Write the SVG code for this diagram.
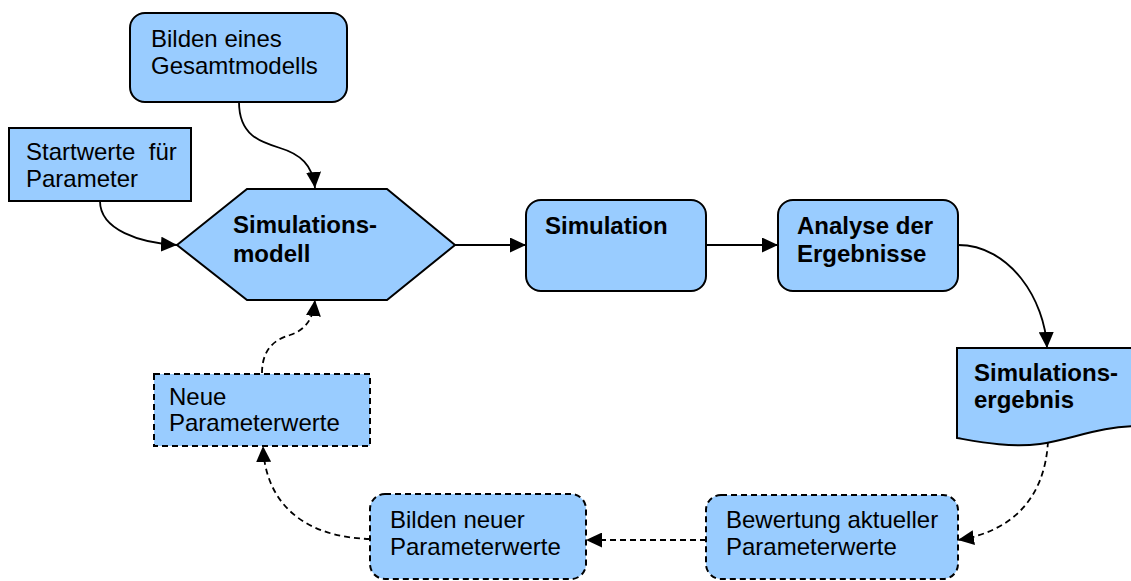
<svg xmlns="http://www.w3.org/2000/svg" width="1131" height="581" viewBox="0 0 1131 581">
<defs>
<style>
.box{fill:#99CCFF;stroke:#000;stroke-width:2}
.dash{stroke-dasharray:6 4}
.t{font-family:"Liberation Sans",Arial,sans-serif;font-size:24px;fill:#000}
.b{font-weight:bold}
.c{fill:none;stroke:#000;stroke-width:1.8}
</style>
<marker id="ah" markerUnits="userSpaceOnUse" markerWidth="17" markerHeight="15" refX="16" refY="7.5" orient="auto">
<path d="M0,0 L16,7.5 L0,15 Z" fill="#000"/>
</marker>
</defs>
<rect width="1131" height="581" fill="#fff"/>
<g id="connectors">
<path class="c" d="M239,102 C239,135 260,142 280,148 C300,154 313,165 315,188" marker-end="url(#ah)"/>
<path class="c" d="M100,201 C100,230 140,243 177,245" marker-end="url(#ah)"/>
<path class="c" d="M455,245 L526,245" marker-end="url(#ah)"/>
<path class="c" d="M706,245 L778,245" marker-end="url(#ah)"/>
<path class="c" d="M958,245 C1010,245 1045,300 1047,348" marker-end="url(#ah)"/>
<path class="c dash" d="M1048,441 C1045,500 1010,532 958,540" marker-end="url(#ah)"/>
<path class="c dash" d="M706,540 L586,540" marker-end="url(#ah)"/>
<path class="c dash" d="M370,539 C300,537 265,500 263,446" marker-end="url(#ah)"/>
<path class="c dash" d="M262,373 C262,345 280,338 290,335 C305,330 313,320 315,300" marker-end="url(#ah)"/>
</g>
<g id="gesamtmodell">
<rect class="box" x="130" y="13" width="217" height="89" rx="15"/>
<text class="t" x="151" y="47">Bilden eines</text>
<text class="t" x="151" y="74">Gesamtmodells</text>
</g>
<g id="startwerte">
<rect class="box" x="9" y="128" width="182" height="73"/>
<text class="t" x="26" y="160" xml:space="preserve">Startwerte  für</text>
<text class="t" x="26" y="187">Parameter</text>
</g>
<g id="simulationsmodell">
<polygon class="box" points="177,245 247,189 387,189 455,245 387,300 247,300"/>
<text class="t b" x="233" y="233">Simulations-</text>
<text class="t b" x="233" y="262">modell</text>
</g>
<g id="simulation">
<rect class="box" x="526" y="200" width="180" height="91" rx="15"/>
<text class="t b" x="545" y="234">Simulation</text>
</g>
<g id="analyse">
<rect class="box" x="778" y="200" width="180" height="91" rx="15"/>
<text class="t b" x="797" y="234">Analyse der</text>
<text class="t b" x="797" y="262">Ergebnisse</text>
</g>
<g id="simulationsergebnis">
<path class="box" d="M957,348 H1140 V426 C1100,426 1070,440 1040,444 C1010,448 980,442 957,438 Z"/>
<text class="t b" x="974" y="381">Simulations-</text>
<text class="t b" x="974" y="408">ergebnis</text>
</g>
<g id="bewertung">
<rect class="box dash" x="706" y="495" width="252" height="84" rx="15"/>
<text class="t" x="726" y="528">Bewertung aktueller</text>
<text class="t" x="726" y="555">Parameterwerte</text>
</g>
<g id="bilden-neuer">
<rect class="box dash" x="370" y="494" width="216" height="85" rx="15"/>
<text class="t" x="390" y="528">Bilden neuer</text>
<text class="t" x="390" y="555">Parameterwerte</text>
</g>
<g id="neue-parameterwerte">
<rect class="box dash" x="154" y="374" width="216" height="72"/>
<text class="t" x="169" y="405">Neue</text>
<text class="t" x="169" y="431">Parameterwerte</text>
</g>
</svg>
